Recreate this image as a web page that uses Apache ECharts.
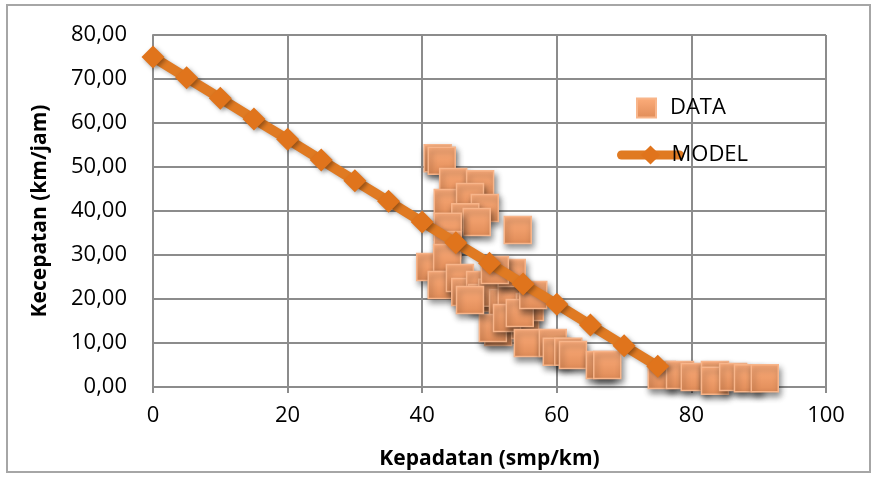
<!DOCTYPE html>
<html>
<head>
<meta charset="utf-8">
<script src="https://cdn.jsdelivr.net/npm/echarts@6/dist/echarts.min.js"></script>
<style>html,body{margin:0;padding:0;background:#fff;}#c{width:877px;height:480px;}</style>
</head>
<body>
<div id="c"></div>
<script>
// Observed data (density smp/km, speed km/jam)
const dataDensity = [42.3,42.9,44.6,48.6,43.8,47.1,49.3,46.4,48.1,54.2,43.8,43.8,41.2,43.7,42.9,45.6,46.4,48.6,48.9,50.4,52.0,53.3,51.3,50.5,55.3,52.6,56.0,54.5,56.5,55.7,59.4,60.0,61.7,62.4,66.4,67.5,75.6,78.3,80.5,83.5,83.5,86.2,88.4,90.9,53.3,50.8,47.1];
const dataSpeed   = [52.0,51.4,46.6,46.1,41.8,43.2,40.7,38.6,37.5,35.7,36.4,32.3,27.3,29.3,23.2,24.8,21.6,23.2,20.2,21.4,19.1,20.2,12.5,13.4,14.1,15.7,18.2,16.8,20.9,10.0,10.0,8.0,8.0,7.3,5.0,5.0,2.7,2.7,2.3,2.7,1.4,2.3,2.0,2.0,25.9,26.6,19.8];
// Model line
const modelDensity = [0,5,10,15,20,25,30,35,40,45,50,55,60,65,70,75];
const modelSpeed   = [75.0,70.3,65.6,60.9,56.3,51.6,46.9,42.2,37.5,32.8,28.1,23.4,18.8,14.1,9.4,4.7];
const xTicks = [0,20,40,60,80,100];
const yTicks = [0,10,20,30,40,50,60,70,80];

const font = "'Open Sans', 'Liberation Sans', sans-serif";
const chart = echarts.init(document.getElementById('c'), null, {renderer:'canvas'});
const sqGrad = new echarts.graphic.LinearGradient(0,0,0,1,[{offset:0,color:'#FDAD7B'},{offset:1,color:'#E08C58'}]);

chart.setOption({
  animation:false,
  backgroundColor:'#fff',
  graphic:[{type:'rect',shape:{x:7,y:5,width:863,height:467},style:{fill:'none',stroke:'#a6a6a6',lineWidth:2},silent:true,z:-1}],
  grid:{left:153,right:51,top:35,bottom:93},
  legend:[
    {data:[{name:'DATA',icon:'rect'}],left:631,top:92,itemWidth:19,itemHeight:19,
     textStyle:{fontFamily:font,fontSize:22,color:'#000',padding:[0,0,0,9]}},
    {data:['MODEL'],left:612,top:139,itemWidth:58,itemHeight:24,
     lineStyle:{width:9,color:'#E07A22',cap:'round'},
     textStyle:{fontFamily:font,fontSize:22,color:'#000',padding:[0,0,0,-13]}}
  ],
  xAxis:{type:'value',min:0,max:100,interval:20,
    name:'Kepadatan (smp/km)',nameLocation:'middle',nameGap:62,
    nameTextStyle:{fontFamily:font,fontSize:21,fontWeight:'bold',color:'#000'},
    axisLine:{show:true,lineStyle:{color:'#8c8c8c',width:2}},
    axisTick:{show:true,length:6,lineStyle:{color:'#8c8c8c',width:2}},
    axisLabel:{fontFamily:font,fontSize:22,color:'#000',margin:18,
      formatter:v=>xTicks.includes(v)?String(v):''},
    splitLine:{show:true,lineStyle:{color:'#8c8c8c',width:2}}},
  yAxis:{type:'value',min:0,max:80,interval:10,
    name:'Kecepatan (km/jam)',nameLocation:'middle',nameGap:102,
    nameTextStyle:{fontFamily:font,fontSize:21,fontWeight:'bold',color:'#000'},
    axisLine:{show:true,lineStyle:{color:'#8c8c8c',width:2}},
    axisTick:{show:false},
    axisLabel:{fontFamily:font,fontSize:22,color:'#000',margin:26,
      formatter:v=>yTicks.includes(v)?v.toFixed(2).replace('.',','):''},
    splitLine:{show:true,lineStyle:{color:'#8c8c8c',width:2}}},
  series:[
    {name:'DATA',type:'scatter',symbol:'rect',symbolSize:27,z:2,
     data:dataDensity.map((k,i)=>[k,dataSpeed[i]]),
     itemStyle:{color:sqGrad,opacity:1,borderColor:'#F8B58A',borderWidth:1.5,
       shadowBlur:6,shadowColor:'rgba(0,0,0,0.45)',shadowOffsetX:2,shadowOffsetY:4}},
    {name:'MODEL',type:'line',symbol:'diamond',symbolSize:23,z:3,
     data:modelDensity.map((k,i)=>[k,modelSpeed[i]]),
     lineStyle:{color:'#E07A22',width:10,shadowBlur:4,shadowColor:'rgba(0,0,0,0.3)',shadowOffsetX:2,shadowOffsetY:2,cap:'round'},
     itemStyle:{color:'#E0741C',opacity:1,shadowBlur:4,shadowColor:'rgba(0,0,0,0.35)',shadowOffsetX:2,shadowOffsetY:2}}
  ]
});
</script>
</body>
</html>
